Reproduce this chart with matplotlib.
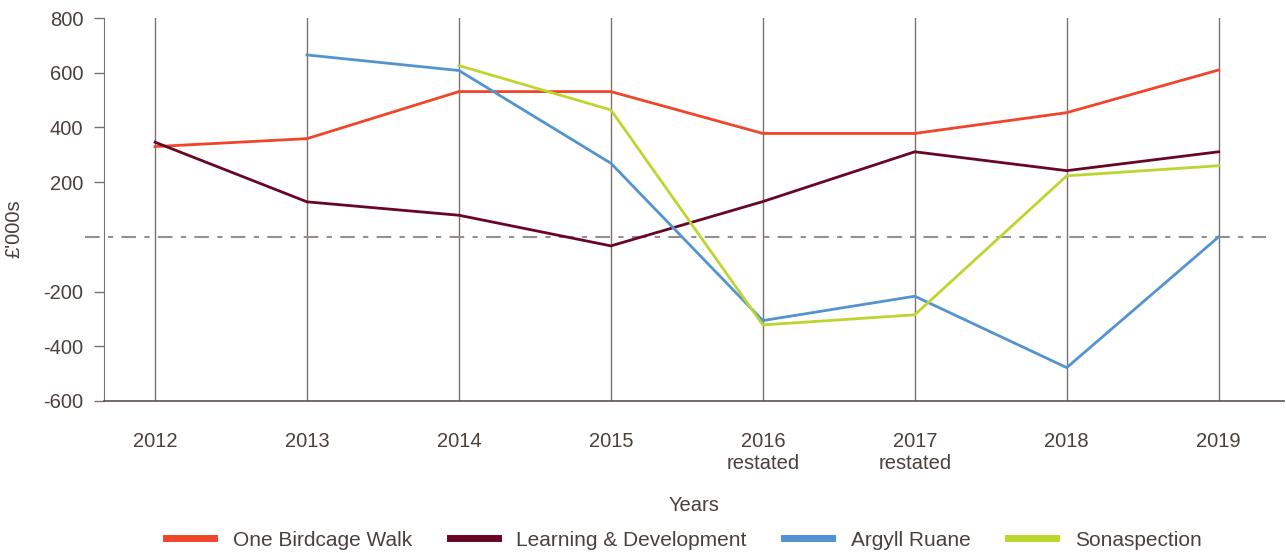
import numpy as np
import matplotlib.pyplot as plt
from matplotlib.lines import Line2D

years = ["2012", "2013", "2014", "2015", "2016\nrestated", "2017\nrestated", "2018", "2019"]
birdcage = [330, 359, 531, 531, 378, 378, 454, 610]
learning = [346, 128, 79, -33, 129, 311, 242, 311]
argyll = [np.nan, 665, 608, 269, -306, -217, -478, 0]
sonaspection = [np.nan, np.nan, 626, 464, -322, -285, 223, 260]

series = [
    ("One Birdcage Walk", birdcage, "#f0452a"),
    ("Learning & Development", learning, "#680624"),
    ("Argyll Ruane", argyll, "#5394d0"),
    ("Sonaspection", sonaspection, "#bdd52f"),
]

txt = "#4a413d"
plt.rcParams["font.family"] = ["Liberation Sans", "DejaVu Sans"]
plt.rcParams["axes.unicode_minus"] = False

fig = plt.figure(figsize=(12.86, 5.53), dpi=100)
ax = fig.add_axes([104 / 1286, 1 - 401 / 553, 1180 / 1286, 383 / 553])

x = np.arange(len(years))
for xi in x:
    ax.axvline(xi, color="#7a716e", lw=1, zorder=1)

# zero line, drawn a bit past the left spine
ax.plot([-0.46, 7.31], [0, 0], color="#958f8c", lw=1.5,
        dashes=(7, 4, 2.5, 4), clip_on=False, zorder=1)

for name, vals, col in series:
    ax.plot(x, vals, color=col, lw=2, label=name, zorder=3)

ax.set_xlim(-0.336, 7.43)
ax.set_ylim(-600, 800)
ax.set_yticks([-600, -400, -200, 200, 400, 600, 800])
ax.set_xticks(x)
ax.set_xticklabels(years, linespacing=1.25)
ax.tick_params(axis="y", length=7, width=1, color="#7a716e", pad=8,
               labelsize=14.5, labelcolor=txt)
ax.tick_params(axis="x", length=0, pad=22, labelsize=14.5, labelcolor=txt)

for s in ["top", "right"]:
    ax.spines[s].set_visible(False)
ax.spines["left"].set_color("#7a716e")
ax.spines["bottom"].set_color("#5a514e")
ax.spines["bottom"].set_linewidth(1.2)

ax.set_xlabel("Years", fontsize=14.5, color=txt, labelpad=16)
ax.set_ylabel("£'000s", fontsize=14.5, color=txt)
ax.yaxis.set_label_coords(-0.068, 0.45)

handles = [Line2D([0], [0], color=c, lw=5) for _, _, c in series]
fig.legend(handles, [s[0] for s in series], loc="center", ncol=4,
           bbox_to_anchor=(684 / 1286, 1 - 540 / 553), frameon=False,
           fontsize=15, handlelength=2.3, handletextpad=0.9,
           columnspacing=1.8, labelcolor=txt)

fig.savefig("out.png", dpi=100)
